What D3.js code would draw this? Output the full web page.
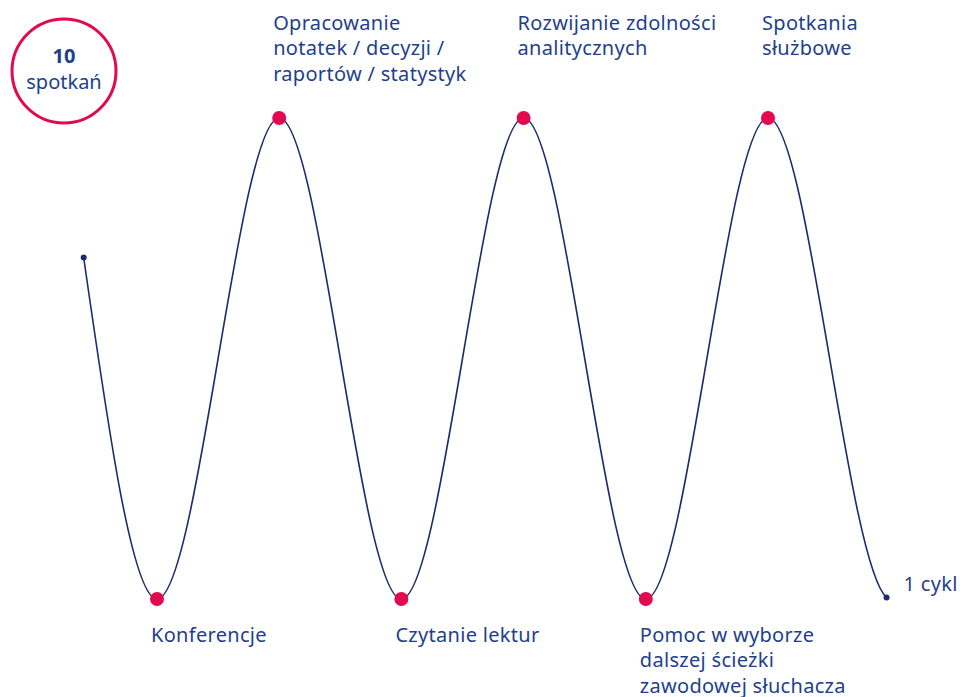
<!DOCTYPE html>
<html>
<head>
<meta charset="utf-8">
<script src="https://cdn.jsdelivr.net/npm/d3@7"></script>
<style>
  html, body { margin: 0; padding: 0; background: #ffffff; }
  svg { display: block; font-family: "Noto Sans", "Open Sans", sans-serif; }
</style>
</head>
<body>
<svg id="chart" width="960" height="697"></svg>
<script>
// wave points: step (half-cycle units) and level (0 = bottom, 1 = top)
const steps = [-0.6, 0, 1, 2, 3, 4, 5, 5.97];
const levels = [0.71, 0, 1, 0, 1, 0, 1, 0.003];
const marked = [false, true, true, true, true, true, true, false];

const stageLabels = [
  { step: 0, pos: "bottom", lines: ["Konferencje"] },
  { step: 1, pos: "top", lines: ["Opracowanie", "notatek / decyzji /", "raportów / statystyk"] },
  { step: 2, pos: "bottom", lines: ["Czytanie lektur"] },
  { step: 3, pos: "top", lines: ["Rozwijanie zdolności", "analitycznych"] },
  { step: 4, pos: "bottom", lines: ["Pomoc w wyborze", "dalszej ścieżki", "zawodowej słuchacza"] },
  { step: 5, pos: "top", lines: ["Spotkania", "służbowe"] },
];
const endLabel = "1 cykl";
const badgeCount = "10";
const badgeText = "spotkań";

const navy = "#1b2b6b";
const textBlue = "#1f3f8c";
const red = "#e2094f";

const svg = d3.select("#chart");

const x = d3.scaleLinear().domain([0, 5]).range([157, 768]);
const y = d3.scaleLinear().domain([0, 1]).range([599, 118]);

const points = steps.map((s, i) => ({ step: s, level: levels[i], marked: marked[i] }));
const last = points[points.length - 1];
const lastPeak = points[points.length - 2];

svg.append("clipPath")
  .attr("id", "waveClip")
  .append("rect")
  .attr("x", 0)
  .attr("y", 0)
  .attr("width", x(lastPeak.step) + 0.5)
  .attr("height", 697);

const wave = d3.line()
  .x((d) => x(d.step))
  .y((d) => y(d.level))
  .curve(d3.curveMonotoneX);

svg.append("path")
  .attr("d", wave(points))
  .attr("clip-path", "url(#waveClip)")
  .attr("fill", "none")
  .attr("stroke", navy)
  .attr("stroke-width", 1.6);

// last half-cycle stops just before the bottom
const x0 = x(lastPeak.step), y0 = y(lastPeak.level);
const x1 = x(last.step), y1 = y(last.level);
const third = (x1 - x0) / 3;
const tail = d3.path();
tail.moveTo(x0, y0);
tail.bezierCurveTo(x0 + third, y0, x1 - third, y1 - 0.9 * third, x1, y1);

svg.append("path")
  .attr("d", tail.toString())
  .attr("fill", "none")
  .attr("stroke", navy)
  .attr("stroke-width", 1.6);

svg.selectAll("circle.pt")
  .data(points)
  .join("circle")
  .attr("class", "pt")
  .attr("cx", (d) => x(d.step))
  .attr("cy", (d) => y(d.level))
  .attr("r", (d) => (d.marked ? 7 : 3))
  .attr("fill", (d) => (d.marked ? red : navy));

const labels = svg.selectAll("text.stage")
  .data(stageLabels)
  .join("text")
  .attr("class", "stage")
  .attr("fill", textBlue)
  .attr("font-size", 20)
  .attr("letter-spacing", 0.3)
  .attr("x", (d) => x(d.step) - 6)
  .attr("y", (d) => (d.pos === "top" ? 30 : 642));

labels.selectAll("tspan")
  .data((d) => d.lines.map((t) => ({ t, x: x(d.step) - 6 })))
  .join("tspan")
  .attr("x", (d) => d.x)
  .attr("dy", (d, i) => (i === 0 ? 0 : 25.3))
  .text((d) => d.t);

svg.append("text")
  .attr("x", x1 + 17)
  .attr("y", 591)
  .attr("fill", textBlue)
  .attr("font-size", 20)
  .attr("letter-spacing", 0.3)
  .text(endLabel);

const badge = svg.append("g").attr("transform", "translate(64,71)");
badge.append("circle")
  .attr("r", 52)
  .attr("fill", "#ffffff")
  .attr("stroke", red)
  .attr("stroke-width", 3);
badge.append("text")
  .attr("text-anchor", "middle")
  .attr("y", -8)
  .attr("fill", textBlue)
  .attr("font-size", 20)
  .attr("font-weight", 700)
  .text(badgeCount);
badge.append("text")
  .attr("text-anchor", "middle")
  .attr("y", 18)
  .attr("fill", textBlue)
  .attr("font-size", 20)
  .text(badgeText);
</script>
</body>
</html>
